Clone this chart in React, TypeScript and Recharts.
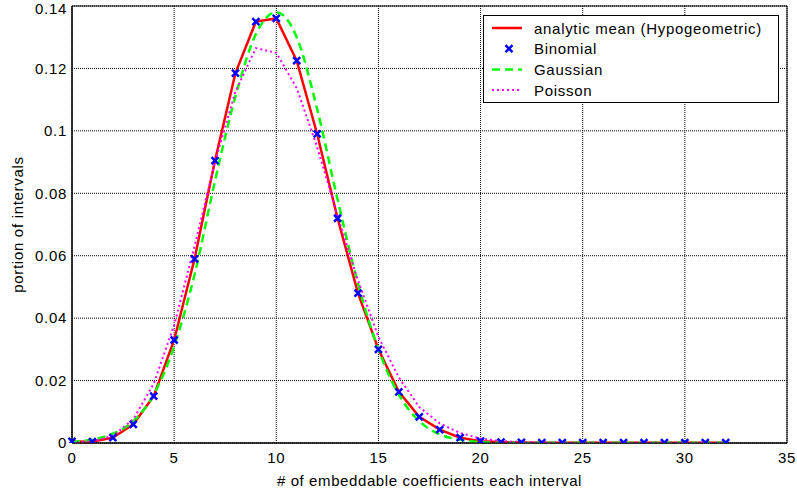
import { LineChart, Line, XAxis, YAxis, CartesianGrid, ReferenceArea, Label } from 'recharts';

const xValues = [0, 1, 2, 3, 4, 5, 6, 7, 8, 9, 10, 11, 12, 13, 14, 15, 16, 17, 18, 19, 20, 21, 22, 23, 24, 25, 26, 27, 28, 29, 30, 31, 32];

const hypogeometric = [
  0.0005, 0.0004, 0.0017, 0.006, 0.015, 0.033, 0.059, 0.0905, 0.1185, 0.135, 0.136,
  0.1225, 0.099, 0.072, 0.048, 0.03, 0.0164, 0.0084, 0.0043, 0.0017, 0.0006, 0.0003,
  0.0002, 0.0001, 0.0001, 0.0001, 0.0001, 0.0001, 0.0001, 0.0001, 0.0001, 0.0001, 0.0001,
];

const binomial = [
  0.0005, 0.0004, 0.0017, 0.006, 0.015, 0.033, 0.059, 0.0905, 0.1185, 0.135, 0.136,
  0.1225, 0.099, 0.072, 0.048, 0.03, 0.0164, 0.0084, 0.0043, 0.0017, 0.0006, 0.0003,
  0.0002, 0.0001, 0.0001, 0.0001, 0.0001, 0.0001, 0.0001, 0.0001, 0.0001, 0.0001, 0.0001,
];

const gaussian = [
  0.0004, 0.0011, 0.003, 0.007, 0.0155, 0.031, 0.054, 0.084, 0.111, 0.131, 0.138,
  0.13, 0.107, 0.078, 0.051, 0.03, 0.0155, 0.007, 0.0028, 0.001, 0.0003, 0.0001,
  0.0001, 0.0001, 0.0001, 0.0001, 0.0001, 0.0001, 0.0001, 0.0001, 0.0001, 0.0001, 0.0001,
];

const poisson = [
  0.0001, 0.0005, 0.0023, 0.0076, 0.019, 0.0378, 0.0631, 0.09, 0.1126, 0.1265, 0.125,
  0.1137, 0.0948, 0.0729, 0.0521, 0.034, 0.021, 0.0115, 0.0063, 0.0032, 0.0014, 0.0006,
  0.0003, 0.0001, 0.0001, 0.0001, 0.0001, 0.0001, 0.0001, 0.0001, 0.0001, 0.0001, 0.0001,
];

const xTicks = [0, 5, 10, 15, 20, 25, 30, 35];
const yTicks = [0, 0.02, 0.04, 0.06, 0.08, 0.1, 0.12, 0.14];

const legendItems = [
  { label: 'analytic mean (Hypogeometric)', kind: 'solid' },
  { label: 'Binomial', kind: 'marker' },
  { label: 'Gaussian', kind: 'dashed' },
  { label: 'Poisson', kind: 'dotted' },
];

const data = xValues.map((x, i) => ({
  x,
  hypo: hypogeometric[i],
  binom: binomial[i],
  gauss: gaussian[i],
  poisson: poisson[i],
}));

const font = '"Liberation Sans", Arial, sans-serif';
const tickStyle = { fontSize: 15, fill: '#000', fontFamily: font, letterSpacing: 0.7 };

function Cross(props: any) {
  const { cx, cy } = props;
  if (cx == null || cy == null) return null;
  const s = 3.5;
  return (
    <path
      d={`M${cx - s},${cy - s}L${cx + s},${cy + s}M${cx - s},${cy + s}L${cx + s},${cy - s}`}
      stroke="#0000ff"
      strokeWidth={2.5}
      fill="none"
    />
  );
}

function LegendBox() {
  return (
    <svg width={296} height={88} style={{ display: 'block' }}>
      <rect x={0.5} y={0.5} width={295} height={87} fill="#fff" stroke="#000" />
      {legendItems.map((item, i) => {
        const y = 13 + i * 20.7;
        return (
          <g key={item.label}>
            {item.kind === 'solid' && <line x1={9} x2={39} y1={y} y2={y} stroke="#ff0000" strokeWidth={2.5} />}
            {item.kind === 'marker' && <Cross cx={26} cy={y} />}
            {item.kind === 'dashed' && (
              <line x1={9} x2={39} y1={y} y2={y} stroke="#00ff00" strokeWidth={2.5} strokeDasharray="8 5" />
            )}
            {item.kind === 'dotted' && (
              <line x1={9} x2={39} y1={y} y2={y} stroke="#ff00ff" strokeWidth={2} strokeDasharray="2 3" />
            )}
            <text x={51} y={y + 5.5} fontSize={15} fontFamily={font} letterSpacing={0.7} fill="#000">
              {item.label}
            </text>
          </g>
        );
      })}
    </svg>
  );
}

export default function App() {
  return (
    <div style={{ position: 'absolute', left: 0, top: 0, width: 797, height: 495, background: '#fff' }}>
      <LineChart width={797} height={495} data={data} margin={{ top: 6, right: 10, bottom: 0, left: 0 }}>
        <CartesianGrid stroke="#000" strokeDasharray="1 1" />
        <XAxis
          dataKey="x"
          type="number"
          domain={[0, 35]}
          ticks={xTicks}
          height={52}
          tick={tickStyle}
          tickLine={false}
          tickSize={4}
          tickMargin={5}
          axisLine={{ stroke: '#000' }}
        >
          <Label
            value="# of embeddable coefficients each interval"
            position="insideBottom"
            offset={9}
            style={{ fontSize: 15, fill: '#000', fontFamily: font, letterSpacing: 0.6 }}
          />
        </XAxis>
        <YAxis
          type="number"
          domain={[0, 0.14]}
          ticks={yTicks}
          width={72}
          allowDataOverflow
          tick={tickStyle}
          tickLine={false}
          tickSize={3}
          tickMargin={2}
          axisLine={{ stroke: '#000' }}
        >
          <Label
            value="portion of intervals"
            angle={-90}
            position="insideLeft"
            offset={18}
            style={{ textAnchor: 'middle', fontSize: 15, fill: '#000', fontFamily: font, letterSpacing: 0.7 }}
          />
        </YAxis>
        <ReferenceArea x1={0} x2={35} y1={0} y2={0.14} fill="none" stroke="#000" strokeWidth={1} />
        <Line dataKey="hypo" type="linear" stroke="#ff0000" strokeWidth={2.5} dot={false} isAnimationActive={false} />
        <Line dataKey="binom" type="linear" stroke="none" dot={<Cross />} activeDot={false} isAnimationActive={false} />
        <Line
          dataKey="gauss"
          type="monotone"
          stroke="#00ff00"
          strokeWidth={2.5}
          strokeDasharray="8 5"
          dot={false}
          isAnimationActive={false}
        />
        <Line
          dataKey="poisson"
          type="linear"
          stroke="#ff00ff"
          strokeWidth={2}
          strokeDasharray="2 3"
          dot={false}
          isAnimationActive={false}
        />
      </LineChart>
      <div style={{ position: 'absolute', left: 483, top: 15 }}>
        <LegendBox />
      </div>
    </div>
  );
}
